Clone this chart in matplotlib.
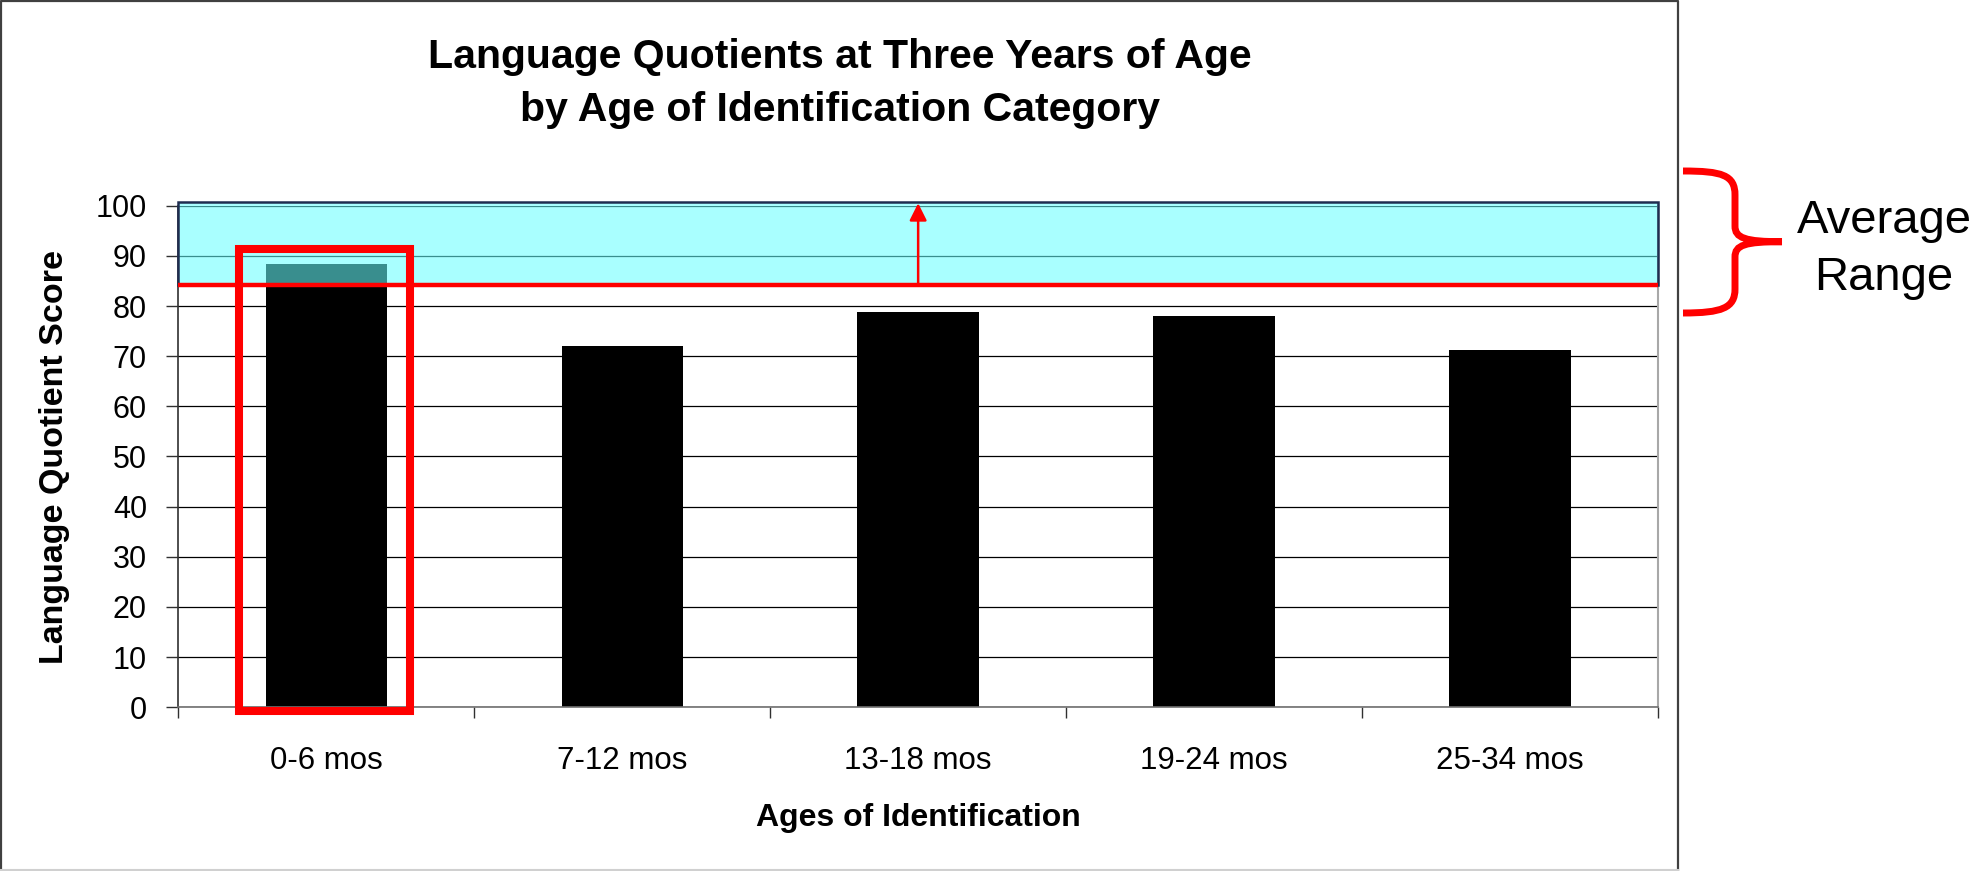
import matplotlib
matplotlib.use("Agg")
import matplotlib.pyplot as plt
from matplotlib.patches import Rectangle, PathPatch
from matplotlib.path import Path
from matplotlib.lines import Line2D
from matplotlib.transforms import Affine2D

plt.rcParams['font.family'] = ['Liberation Sans', 'DejaVu Sans']

# data
categories = ["0-6 mos", "7-12 mos", "13-18 mos", "19-24 mos", "25-34 mos"]
lq_scores = [88.3, 72.1, 78.9, 78.1, 71.3]
avg_low = 84.2
avg_high = 100.7
y_ticks = list(range(0, 101, 10))

W, H = 1972, 871
fig = plt.figure(figsize=(W / 100, H / 100), dpi=100)
# pixel coords, origin top-left (for the decorations around the chart)
px = Affine2D().scale(1.0 / W, -1.0 / H).translate(0, 1) + fig.transFigure

ax = fig.add_axes([178.3 / W, (H - 707.3) / H, (1658 - 178.3) / W, 501.6 / H])
x = list(range(len(categories)))
ax.bar(x, lq_scores, width=0.41, color="black", zorder=2)

ax.set_xlim(-0.5, len(categories) - 0.5)
ax.set_ylim(0, 100)
ax.set_yticks(y_ticks)
ax.yaxis.grid(True, color="black", linewidth=0.9)
ax.set_axisbelow(True)
ax.tick_params(axis='y', direction='out', length=8.6, width=1, color="#303030",
               labelsize=22, pad=14)
ax.set_xticks(x)
ax.set_xticklabels(categories)
ax.set_xticks([i - 0.5 for i in range(len(categories) + 1)], minor=True)
ax.tick_params(axis='x', which='major', length=0, labelsize=22.5, pad=28)
ax.tick_params(axis='x', which='minor', direction='out', length=8, width=1, color="#303030")

ax.spines['top'].set_visible(False)
ax.spines['left'].set_color("#303030")
ax.spines['left'].set_linewidth(1.2)
ax.spines['bottom'].set_color("#707070")
ax.spines['bottom'].set_linewidth(1.2)
ax.spines['right'].set_color("#a8a8a8")
ax.spines['right'].set_linewidth(1.5)

# average range band
band = Rectangle((-0.5, avg_low), len(categories), avg_high - avg_low,
                 facecolor=(103 / 255, 1, 1), alpha=0.56, edgecolor="none",
                 zorder=3, clip_on=False)
ax.add_patch(band)
band_edge = Rectangle((-0.5, avg_low), len(categories), avg_high - avg_low,
                      facecolor="none", edgecolor="#1f2d50", linewidth=1.8,
                      zorder=3.5, clip_on=False)
ax.add_patch(band_edge)
ax.plot([-0.5, len(categories) - 0.5], [avg_low, avg_low], color="red",
        linewidth=3.2, zorder=4, clip_on=False, solid_capstyle='butt')
ax.annotate("", xy=(2, avg_high - 0.2), xytext=(2, avg_low),
            arrowprops=dict(arrowstyle='-|>', color="red", lw=1.8,
                            mutation_scale=26, shrinkA=0, shrinkB=0),
            zorder=5, annotation_clip=False)

# red box around the first bar
ax.add_patch(Rectangle((-0.295, -0.8), 0.577, 92.2, facecolor="none",
                       edgecolor="red", linewidth=5.8, zorder=6, clip_on=False,
                       joinstyle='miter'))

# brace + label on the right
brace = Path(
    [(1683, 171), (1722, 171), (1735, 175), (1735, 195), (1735, 226),
     (1735, 238), (1745, 241.7), (1782, 241.7),
     (1745, 241.7), (1735, 245), (1735, 257), (1735, 289),
     (1735, 308), (1722, 313), (1683, 313)],
    [Path.MOVETO, Path.CURVE4, Path.CURVE4, Path.CURVE4, Path.LINETO,
     Path.CURVE4, Path.CURVE4, Path.CURVE4,
     Path.CURVE4, Path.CURVE4, Path.CURVE4, Path.LINETO,
     Path.CURVE4, Path.CURVE4, Path.CURVE4])
fig.add_artist(PathPatch(brace, transform=px, facecolor="none", edgecolor="red",
                         linewidth=5, capstyle='butt'))
fig.text(1884, 233, "Average", transform=px, ha='center', va='baseline', fontsize=34)
fig.text(1884, 290, "Range", transform=px, ha='center', va='baseline', fontsize=34)

# titles and axis labels
fig.text(840, 68, "Language Quotients at Three Years of Age", transform=px,
         ha='center', va='baseline', fontsize=29.5, fontweight='bold')
fig.text(840, 121, "by Age of Identification Category", transform=px,
         ha='center', va='baseline', fontsize=29.5, fontweight='bold')
fig.text(918, 825.7, "Ages of Identification", transform=px,
         ha='center', va='baseline', fontsize=23, fontweight='bold')
fig.text(55, 457, "Language Quotient Score", transform=px, rotation=90,
         ha='center', va='center', fontsize=24.5, fontweight='bold')

# outer chart frame
fig.add_artist(Line2D([1, 1, 1677.5, 1677.5], [870, 1.5, 1.5, 870], transform=px,
                      color="#404040", linewidth=1.6))
fig.add_artist(Line2D([1, 1677.5], [870, 870], transform=px,
                      color="#d0d0d0", linewidth=1.5))

fig.savefig("out.png", dpi=100)
